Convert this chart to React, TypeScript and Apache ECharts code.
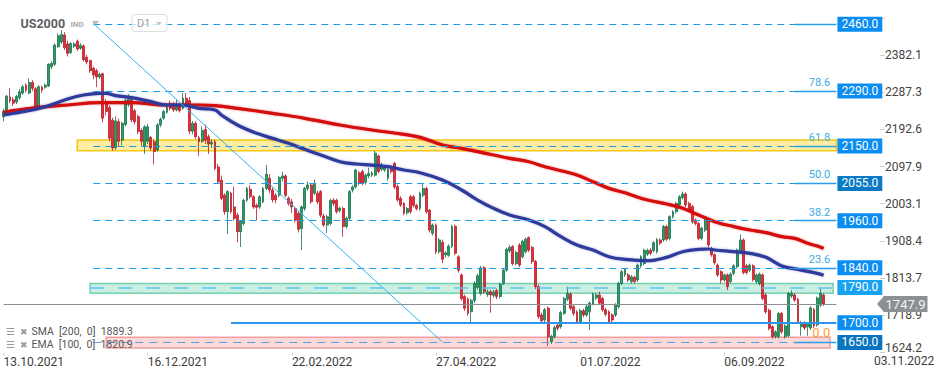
import React, { useEffect, useRef } from 'react';
import * as echarts from 'echarts';

// ---------- data ----------
const firstDay = '2021-10-13';
const holidays = ['2021-11-25', '2021-12-24', '2022-01-17', '2022-02-21', '2022-04-15', '2022-05-30', '2022-06-20', '2022-07-04', '2022-09-05', '2022-11-24'];
const slotCount = 261;
const tickDates = ['13.10.2021', '16.12.2021', '22.02.2022', '27.04.2022', '01.07.2022', '06.09.2022'];
const lastDateLabel = '03.11.2022';
const yTickLabels = ['1624.2', '1718.9', '1813.7', '1908.4', '2003.1', '2097.9', '2192.6', '2287.3', '2382.1'];
const yMin = 1624.2;
const yMax = 2476.0;
const yStep = 94.7375;
const lastPrice = 1747.9;
const smaLabel = '1889.3';
const emaLabel = '1820.9';

// [open, close, low, high]
const ohlc: number[][] = [
  [2225, 2238, 2213, 2245], [2240, 2277, 2236, 2280], [2275, 2265, 2259, 2297], [2268, 2259, 2252, 2275], [2262, 2276, 2257, 2280],
  [2273, 2288, 2268, 2295], [2285, 2301, 2280, 2306], [2305, 2292, 2286, 2310], [2285, 2312, 2282, 2322], [2312, 2297, 2290, 2318],
  [2296, 2250, 2245, 2300], [2252, 2301, 2248, 2305], [2300, 2292, 2285, 2304], [2300, 2305, 2296, 2309], [2303, 2358, 2300, 2361],
  [2352, 2360, 2346, 2366], [2358, 2407, 2354, 2411], [2403, 2431, 2400, 2437], [2415, 2434, 2410, 2445], [2433, 2400, 2395, 2440],
  [2410, 2386, 2378, 2418], [2388, 2411, 2384, 2414], [2404, 2410, 2400, 2414], [2417, 2397, 2392, 2421], [2399, 2406, 2395, 2412],
  [2405, 2370, 2365, 2409], [2376, 2364, 2358, 2382], [2368, 2342, 2336, 2370], [2348, 2331, 2320, 2352], [2342, 2326, 2300, 2347],
  [2326, 2333, 2320, 2337], [2334, 2221, 2210, 2337], [2262, 2238, 2228, 2270], [2248, 2170, 2162, 2254], [2216, 2145, 2138, 2222],
  [2146, 2214, 2140, 2225], [2212, 2162, 2148, 2220], [2165, 2208, 2152, 2212], [2205, 2266, 2200, 2272], [2256, 2270, 2250, 2282],
  [2268, 2217, 2210, 2272], [2240, 2212, 2205, 2245], [2225, 2187, 2180, 2230], [2190, 2162, 2150, 2195], [2150, 2199, 2130, 2203],
  [2162, 2199, 2155, 2206], [2172, 2145, 2138, 2176], [2161, 2136, 2103, 2166], [2140, 2204, 2136, 2208], [2204, 2218, 2198, 2223],
  [2221, 2238, 2217, 2242], [2236, 2249, 2232, 2253], [2258, 2246, 2240, 2266], [2250, 2242, 2237, 2262], [2242, 2256, 2238, 2268],
  [2250, 2240, 2235, 2256], [2246, 2272, 2242, 2285], [2272, 2256, 2250, 2285], [2266, 2188, 2180, 2275], [2188, 2208, 2180, 2214],
  [2208, 2174, 2168, 2213], [2171, 2161, 2125, 2176], [2162, 2190, 2158, 2200], [2192, 2165, 2155, 2205], [2174, 2155, 2130, 2180],
  [2155, 2160, 2145, 2168], [2161, 2093, 2088, 2166], [2097, 2059, 2054, 2105], [2063, 2017, 2012, 2075], [2025, 1983, 1975, 2030],
  [1983, 2034, 1926, 2038], [2030, 1983, 1978, 2034], [1995, 1966, 1960, 2047], [1974, 1932, 1905, 1980], [1932, 1958, 1893, 1962],
  [1953, 2012, 1948, 2016], [2012, 2042, 2008, 2046], [2040, 2021, 2016, 2050], [2021, 1995, 1990, 2025], [1999, 1994, 1961, 2004],
  [1995, 2021, 1990, 2025], [2008, 2042, 2004, 2046], [2042, 2078, 2038, 2102], [2068, 2038, 2030, 2078], [2038, 2013, 2006, 2045],
  [2025, 2013, 2004, 2030], [2025, 2070, 2020, 2074], [2068, 2074, 2060, 2085], [2074, 2025, 2020, 2078], [2017, 2004, 1998, 2022],
  [2008, 1995, 1980, 2015], [1991, 1961, 1956, 1996], [1979, 1938, 1930, 1984], [1940, 1995, 1885, 1999], [1991, 2042, 1985, 2046],
  [2042, 2051, 2036, 2060], [2051, 2008, 2003, 2056], [2030, 2053, 2025, 2065], [2030, 2008, 2002, 2036], [2034, 1974, 1968, 2038],
  [1972, 1949, 1944, 1978], [1949, 1970, 1928, 1975], [1953, 2012, 1948, 2016], [2012, 2004, 1998, 2018], [2012, 1983, 1978, 2016],
  [1986, 1992, 1980, 1996], [1991, 1945, 1919, 1996], [1945, 1966, 1940, 1970], [1966, 2034, 1962, 2038], [2038, 2046, 2032, 2050],
  [2046, 2089, 2042, 2092], [2082, 2055, 2050, 2086], [2085, 2055, 2050, 2090], [2058, 2076, 2052, 2080], [2074, 2080, 2068, 2095],
  [2076, 2081, 2071, 2086], [2076, 2132, 2072, 2138], [2125, 2085, 2080, 2128], [2091, 2102, 2086, 2108], [2089, 2096, 2084, 2100],
  [2068, 2091, 2062, 2096], [2097, 2085, 2080, 2102], [2106, 2046, 2040, 2110], [2047, 2013, 2008, 2052], [2017, 2000, 1995, 2022],
  [2004, 1979, 1974, 2008], [1980, 1991, 1975, 1995], [2021, 1983, 1978, 2026], [2021, 1999, 1994, 2025], [1999, 1991, 1986, 2003],
  [1991, 2030, 1986, 2034], [2025, 2042, 2020, 2056], [2042, 1983, 1978, 2046], [1987, 1936, 1930, 1990], [1928, 1949, 1922, 1953],
  [1949, 1881, 1875, 1953], [1881, 1911, 1876, 1916], [1905, 1862, 1852, 1912], [1873, 1878, 1866, 1882], [1872, 1895, 1868, 1900],
  [1894, 1945, 1890, 1950], [1946, 1877, 1872, 1950], [1868, 1834, 1828, 1872], [1822, 1762, 1756, 1826], [1767, 1737, 1730, 1772],
  [1760, 1724, 1718, 1765], [1728, 1757, 1698, 1762], [1757, 1800, 1750, 1806], [1790, 1820, 1785, 1825], [1775, 1840, 1770, 1845],
  [1840, 1779, 1774, 1845], [1772, 1779, 1766, 1785], [1779, 1771, 1726, 1784], [1770, 1778, 1764, 1784], [1782, 1767, 1760, 1787],
  [1767, 1798, 1762, 1802], [1800, 1834, 1796, 1838], [1834, 1887, 1830, 1891], [1883, 1892, 1878, 1898], [1894, 1851, 1846, 1898],
  [1851, 1879, 1846, 1884], [1898, 1847, 1842, 1903], [1868, 1907, 1864, 1911], [1881, 1913, 1876, 1917], [1917, 1885, 1880, 1920],
  [1892, 1856, 1850, 1896], [1856, 1792, 1786, 1860], [1792, 1716, 1710, 1797], [1720, 1705, 1698, 1726], [1707, 1733, 1702, 1738],
  [1737, 1665, 1641, 1742], [1652, 1665, 1646, 1670], [1665, 1688, 1660, 1693], [1694, 1686, 1680, 1698], [1690, 1726, 1685, 1731],
  [1724, 1762, 1720, 1766], [1760, 1775, 1755, 1792], [1773, 1737, 1732, 1778], [1741, 1724, 1718, 1746], [1728, 1703, 1698, 1732],
  [1703, 1731, 1698, 1736], [1731, 1720, 1714, 1736], [1720, 1741, 1715, 1746], [1728, 1750, 1682, 1755], [1748, 1773, 1744, 1777],
  [1763, 1771, 1758, 1776], [1771, 1750, 1745, 1779], [1762, 1733, 1728, 1766], [1733, 1722, 1716, 1738], [1728, 1703, 1698, 1732],
  [1720, 1707, 1700, 1725], [1720, 1745, 1715, 1750], [1741, 1800, 1736, 1805], [1800, 1830, 1796, 1835], [1822, 1836, 1817, 1840],
  [1822, 1809, 1804, 1827], [1805, 1817, 1800, 1822], [1816, 1805, 1800, 1820], [1809, 1847, 1804, 1851], [1845, 1868, 1840, 1872],
  [1851, 1885, 1846, 1889], [1875, 1884, 1870, 1889], [1885, 1877, 1872, 1890], [1884, 1904, 1879, 1908], [1881, 1912, 1876, 1916],
  [1911, 1903, 1898, 1915], [1911, 1945, 1906, 1949], [1945, 1913, 1908, 1949], [1915, 1970, 1910, 1974], [1970, 1983, 1965, 1987],
  [1983, 2004, 1978, 2008], [2000, 2021, 1995, 2025], [2019, 2028, 2014, 2034], [2028, 2000, 1995, 2032], [2004, 1987, 1982, 2008],
  [1996, 1957, 1952, 2000], [1962, 1953, 1948, 1966], [1953, 1915, 1910, 1957], [1915, 1941, 1910, 1945], [1936, 1960, 1931, 1964],
  [1962, 1898, 1893, 1966], [1890, 1873, 1868, 1894], [1873, 1853, 1848, 1877], [1847, 1822, 1817, 1851], [1830, 1809, 1800, 1834],
  [1809, 1822, 1804, 1826], [1822, 1792, 1783, 1826], [1805, 1824, 1800, 1828], [1826, 1845, 1821, 1849], [1843, 1885, 1838, 1889],
  [1881, 1911, 1876, 1925], [1911, 1828, 1823, 1915], [1845, 1828, 1823, 1850], [1834, 1847, 1829, 1851], [1845, 1810, 1805, 1849],
  [1805, 1822, 1800, 1826], [1800, 1824, 1795, 1828], [1822, 1762, 1757, 1826], [1771, 1728, 1723, 1775], [1732, 1686, 1681, 1736],
  [1690, 1665, 1660, 1694], [1665, 1677, 1660, 1681], [1665, 1724, 1660, 1728], [1724, 1677, 1672, 1728], [1665, 1692, 1660, 1696],
  [1668, 1775, 1663, 1779], [1768, 1775, 1763, 1783], [1771, 1758, 1753, 1776], [1760, 1703, 1698, 1764], [1690, 1700, 1667, 1705],
  [1700, 1687, 1682, 1704], [1690, 1698, 1667, 1702], [1687, 1738, 1682, 1742], [1734, 1692, 1687, 1738], [1695, 1763, 1690, 1767],
  [1745, 1775, 1740, 1788], [1771, 1748, 1743, 1775],
];

// [slot index, value]
const sma200Points: [number, number][] = [
  [0, 2236], [9, 2246.5], [20, 2254.5], [30, 2260.4], [40, 2260.4], [51, 2254.5], [61, 2254.5], [66, 2253], [73, 2246],
  [84, 2233.3], [94, 2220.6], [105, 2203.6], [115, 2190.9], [125, 2179.8], [130, 2172.2], [137, 2152.7], [143, 2144.2],
  [148, 2135.7], [153, 2127.2], [158, 2118.7], [164, 2110.2], [169, 2097.5], [174, 2087.3], [179, 2076.3], [184, 2059.3],
  [189, 2042.3], [194, 2031], [196, 2025.4], [201, 2012.7], [207, 2002.5], [212, 1991.5], [217, 1974.5], [222, 1957.5],
  [228, 1944.8], [233, 1936.3], [238, 1929.5], [243, 1919.3], [247, 1915], [251, 1902.4], [254, 1895.6], [256, 1889.3],
];
const ema100Points: [number, number][] = [
  [0, 2229], [5, 2235.8], [9, 2241.8], [14, 2252.8], [20, 2269.8], [25, 2280], [30, 2284.2], [32, 2284.2], [35, 2278.3],
  [40, 2273.2], [46, 2263], [51, 2254.5], [56, 2254.5], [61, 2246], [66, 2241.8], [68, 2229], [73, 2203.6], [79, 2182.4],
  [84, 2169.6], [89, 2156.9], [94, 2141.6], [99, 2127.2], [105, 2110.2], [110, 2104.3], [115, 2101.7], [120, 2097.5],
  [125, 2089], [130, 2082.2], [137, 2063.6], [143, 2038.1], [148, 2012.6], [153, 1991.4], [158, 1974.4], [164, 1961.7],
  [169, 1944.7], [174, 1919.3], [179, 1898], [184, 1885.3], [189, 1868.4], [194, 1861.6], [201, 1858.2], [207, 1866.7],
  [212, 1881.1], [217, 1887.1], [220, 1887.9], [222, 1885.4], [228, 1881.1], [233, 1876.9], [238, 1866.7], [243, 1844.6],
  [248, 1836.1], [254, 1826], [256, 1820.9],
];

const fibLevels = [
  { value: 2460, text: '' },
  { value: 2290, text: '78.6' },
  { value: 2150, text: '61.8' },
  { value: 2055, text: '50.0' },
  { value: 1960, text: '38.2' },
  { value: 1840, text: '23.6' },
  { value: 1650, text: '0.0' },
];
const fibStart = 28;
const fibEnd = 259;
const trendStart: [number, number] = [28, 2462];
const trendEnd: [number, number] = [137, 1651];
const supportLine = { value: 1700, start: 71 };
const zoneLine1790 = { value: 1790, start: 27, end: 259 };
const zones = [
  { top: 2165.5, bottom: 2138, start: 23, end: 260, fill: 'rgba(255,214,30,0.42)', border: '#f4c816' },
  { top: 1800, bottom: 1775, start: 27, end: 259, fill: 'rgba(90,205,165,0.32)', border: 'rgba(80,195,155,0.75)' },
  { top: 1663, bottom: 1636, start: 32, end: 258, fill: 'rgba(240,120,120,0.28)', border: 'rgba(235,140,140,0.8)' },
];
const priceBoxes = [
  { value: 2460, color: '#0b8df1', seg: true },
  { value: 2290, color: '#0b8df1', seg: true },
  { value: 2150, color: '#0b8df1', seg: true },
  { value: 2055, color: '#0a79c6', seg: true },
  { value: 1960, color: '#0b8df1', seg: true },
  { value: 1840, color: '#0b8df1', seg: true },
  { value: 1790, color: '#1aa2f2', seg: false },
  { value: 1700, color: '#0b8df1', seg: false },
  { value: 1650, color: '#0a74be', seg: true },
];
const segStart = 247;
const lastSlot = 260;

function buildTradingDays(): string[] {
  const out: string[] = [];
  const d = new Date(firstDay + 'T00:00:00Z');
  while (out.length < slotCount) {
    const wd = d.getUTCDay();
    const iso = d.toISOString().slice(0, 10);
    if (wd !== 0 && wd !== 6 && !holidays.includes(iso)) {
      const [y, m, dd] = iso.split('-');
      out.push(`${dd}.${m}.${y}`);
    }
    d.setUTCDate(d.getUTCDate() + 1);
  }
  return out;
}

const FONT = 'Roboto, "Noto Sans", sans-serif';

export default function App() {
  const ref = useRef<HTMLDivElement>(null);
  useEffect(() => {
    if (!ref.current) return;
    const chart = echarts.init(ref.current, undefined, { renderer: 'svg' });
    const dates = buildTradingDays();
    const tickSet = new Set(tickDates);
    const showTick = (_i: number, v: string) => tickSet.has(v);

    const fibLines = fibLevels.map((f) => [
      {
        coord: [dates[fibStart], f.value],
        lineStyle: f.value === 1650
          ? { color: '#5a9fe0', width: 1.2, type: [8, 6] }
          : { color: '#1e9be8', width: 1.2, type: [7, 5] },
        label: f.text
          ? { show: true, position: 'insideEndTop', formatter: f.text, distance: 3, fontSize: f.value === 1650 ? 13 : 11, color: f.value === 1650 ? '#ff9d2e' : '#3aaae6', fontFamily: FONT }
          : { show: false },
      },
      { coord: [dates[fibEnd], f.value] },
    ]);
    const extraLines: any[] = [
      [
        { coord: [dates[trendStart[0]], trendStart[1]], lineStyle: { color: '#36b3f0', width: 1, type: 'solid' }, label: { show: false } },
        { coord: [dates[trendEnd[0]], trendEnd[1]] },
      ],
      [
        { coord: [dates[zoneLine1790.start], zoneLine1790.value], lineStyle: { color: '#63c6ee', width: 1.5, type: [14, 14] }, label: { show: false } },
        { coord: [dates[zoneLine1790.end], zoneLine1790.value] },
      ],
      [
        { coord: [dates[supportLine.start], supportLine.value], lineStyle: { color: '#2c95ec', width: 1.8, type: 'solid' }, label: { show: false } },
        { coord: [dates[lastSlot], supportLine.value] },
      ],
      [
        { coord: [dates[0], lastPrice], lineStyle: { color: '#8a8f94', width: 1, type: 'solid' }, label: { show: false } },
        { coord: [dates[lastSlot], lastPrice] },
      ],
    ];
    // short end segments carrying the price boxes
    const boxLines = priceBoxes.map((b) => [
      {
        coord: [dates[segStart], b.value],
        lineStyle: b.seg
          ? { color: '#2a9ee8', width: 1.4, type: 'solid' }
          : { color: 'rgba(0,0,0,0)', width: 1, type: 'solid' },
        label: {
          show: true, position: 'end', distance: 1, formatter: b.value.toFixed(1), color: '#ffffff',
          backgroundColor: b.color, padding: [1, 4, 1, 4], lineHeight: 13, fontSize: 12, fontFamily: FONT,
        },
      },
      { coord: [dates[lastSlot], b.value] },
    ]);
    const zoneAreas = zones.map((z) => [
      { coord: [dates[z.start], z.top], itemStyle: { color: z.fill, borderColor: z.border, borderWidth: 1.5 } },
      { coord: [dates[z.end], z.bottom] },
    ]);

    const option: any = {
      animation: false,
      backgroundColor: '#ffffff',
      textStyle: { fontFamily: FONT },
      grid: { left: 2, right: 111, top: 18, bottom: 25.4 },
      xAxis: {
        type: 'category',
        data: dates,
        boundaryGap: true,
        axisLine: { show: false },
        axisTick: { show: true, alignWithLabel: true, interval: showTick, length: 3, lineStyle: { color: '#cfcfcf' } },
        axisLabel: { interval: showTick, align: 'left', margin: 3, color: '#3c3c3c', fontSize: 12, fontFamily: FONT },
        splitLine: { show: false },
      },
      yAxis: [
        { type: 'value', min: yMin, max: yMax, show: false, splitLine: { show: false } },
        {
          type: 'value', min: 0, max: (yMax - yMin) / yStep, interval: 1, position: 'right', offset: 42,
          axisLine: { show: false },
          axisTick: { show: true, length: 5, lineStyle: { color: '#d0d0d0' } },
          axisLabel: {
            margin: 5, color: '#444', fontSize: 12, fontFamily: FONT,
            formatter: (v: number) => {
              const k = Math.round(v);
              const t = yTickLabels[k];
              if (t === undefined || Math.abs(v - k) > 0.01) return '';
              return k === 0 ? `{low|${t}}` : t;
            },
            rich: { low: { padding: [0, 0, 10, 0], fontSize: 12, color: '#444', fontFamily: FONT } },
          },
          splitLine: { show: false },
        },
      ],
      series: [
        {
          name: 'US2000', type: 'candlestick', z: 2, yAxisIndex: 0, barWidth: 2.4,
          data: ohlc,
          itemStyle: { color: '#2a9d63', color0: '#e0303b', borderColor: '#17714a', borderColor0: '#b81c27', borderWidth: 0.8 },
        },
        {
          name: 'SMA', type: 'line', z: 3, yAxisIndex: 0, showSymbol: false, smooth: 0.4,
          data: sma200Points.map(([i, v]) => [dates[i], v]),
          lineStyle: { color: '#d40808', width: 3.2, shadowColor: 'rgba(212,8,8,0.45)', shadowBlur: 2 },
        },
        {
          name: 'EMA', type: 'line', z: 3, yAxisIndex: 0, showSymbol: false, smooth: 0.4,
          data: ema100Points.map(([i, v]) => [dates[i], v]),
          lineStyle: { color: '#2f3a9c', width: 3.2, shadowColor: 'rgba(47,58,156,0.45)', shadowBlur: 2 },
        },
        {
          name: 'levels', type: 'line', z: 4, yAxisIndex: 0, data: [],
          markLine: { silent: true, symbol: ['none', 'none'], label: { show: false }, data: [...fibLines, ...extraLines] },
        },
        {
          name: 'zones', type: 'line', z: 5, yAxisIndex: 0, data: [],
          markArea: { silent: true, data: zoneAreas },
        },
        {
          name: 'boxes', type: 'line', z: 6, yAxisIndex: 0, data: [],
          markLine: { silent: true, symbol: ['none', 'none'], data: boxLines },
        },
      ],
    };
    chart.setOption(option);

    const yPx = chart.convertToPixel({ yAxisIndex: 0 }, lastPrice) as number;
    const legendText = (y: number, name: string, val: string) => [
      { type: 'text', z: 100, style: { x: 6, y, text: '☰', fill: '#9a9a9a', font: `10px ${FONT}`, textVerticalAlign: 'middle' } },
      { type: 'text', z: 100, style: { x: 20, y, text: '✖', fill: '#9a9a9a', font: `9px ${FONT}`, textVerticalAlign: 'middle' } },
      { type: 'text', z: 100, style: { x: 31.5, y, text: `${name}  [${name === 'SMA' ? '200' : '100'},  0]  ${val}`, fill: '#555', font: `10.5px ${FONT}`, textVerticalAlign: 'middle' } },
    ];
    chart.setOption({
      graphic: [
        { type: 'text', z: 100, style: { x: 20.5, y: 23.5, text: 'US2000', fill: '#5a6066', font: `bold 12.5px ${FONT}`, textVerticalAlign: 'middle' } },
        { type: 'text', z: 100, style: { x: 70.5, y: 24.5, text: 'IND', fill: '#a7abaf', font: `bold 8px ${FONT}`, textVerticalAlign: 'middle' } },
        { type: 'polygon', z: 100, shape: { points: [[92, 21], [99, 21], [95.5, 25]] }, style: { fill: '#b5b9bd' } },
        { type: 'rect', z: 100, shape: { x: 132, y: 14.5, width: 35, height: 17, r: 3 }, style: { fill: 'rgba(255,255,255,0.75)', stroke: '#dedede', lineWidth: 1 } },
        { type: 'text', z: 101, style: { x: 137, y: 23.5, text: 'D1', fill: '#a0a0a0', font: `11px ${FONT}`, textVerticalAlign: 'middle' } },
        { type: 'polygon', z: 101, shape: { points: [[156, 22], [162, 22], [159, 25]] }, style: { fill: '#c4c4c4' } },
        ...legendText(331.5, 'SMA', smaLabel),
        ...legendText(344.5, 'EMA', emaLabel),
        { type: 'text', z: 100, style: { x: 874, y: 361, text: lastDateLabel, fill: '#3c3c3c', font: `12px ${FONT}`, textVerticalAlign: 'middle' } },
        { type: 'polygon', z: 100, shape: { points: [[877, yPx], [884, yPx - 8], [884, yPx + 8]] }, style: { fill: '#8b9095' } },
        { type: 'rect', z: 100, shape: { x: 883.5, y: yPx - 8, width: 44, height: 16 }, style: { fill: '#8b9095' } },
        { type: 'text', z: 101, style: { x: 905.5, y: yPx, text: lastPrice.toFixed(1), fill: '#f4f4f4', font: `13px ${FONT}`, textAlign: 'center', textVerticalAlign: 'middle' } },
      ],
    });

    return () => chart.dispose();
  }, []);
  return <div ref={ref} style={{ position: 'absolute', left: 0, top: 0, width: 949, height: 378, background: '#fff' }} />;
}
